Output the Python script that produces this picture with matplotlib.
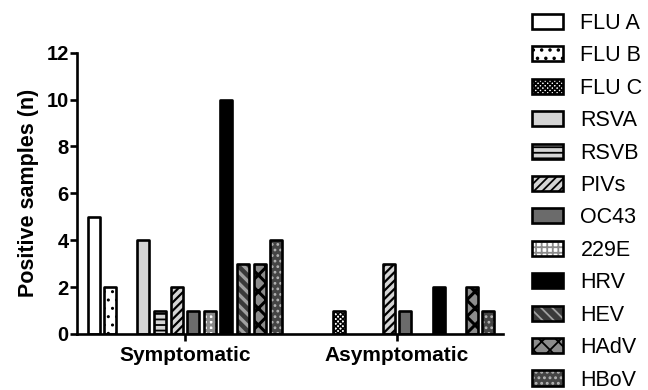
import matplotlib
matplotlib.use('Agg')
import matplotlib.pyplot as plt
from matplotlib.patches import Patch

plt.rcParams['font.family'] = ['Liberation Sans', 'DejaVu Sans']
plt.rcParams['hatch.linewidth'] = 1.3

viruses = ['FLU A', 'FLU B', 'FLU C', 'RSVA', 'RSVB', 'PIVs', 'OC43', '229E',
           'HRV', 'HEV', 'HAdV', 'HBoV']
groups = ['Symptomatic', 'Asymptomatic']
symptomatic = [5, 2, 0, 4, 1, 2, 1, 1, 10, 3, 3, 4]
asymptomatic = [0, 0, 1, 0, 0, 3, 1, 0, 2, 0, 2, 1]
yticks = [0, 2, 4, 6, 8, 10, 12]

face = ['white', 'white', 'white', '#d4d4d4', '#d4d4d4', '#d4d4d4', '#6b6b6b',
        'white', 'black', '#3a3a3a', '#8c8c8c', '#454545']
hatches = [None, '..', 'xxxxxxx', None, '---', '////', None, '+++', None,
           '\\\\\\', 'xx', '...']
hcolors = ['black', 'black', 'black', 'black', 'black', 'black', 'black',
           '#8a8a8a', 'black', '#a0a0a0', 'black', '#b5b5b5']
hlw = [1, 1, 1.0, 1, 1.3, 1.6, 1, 2.2, 1, 2.4, 2.2, 1.2]


def set_hlw(p, w):
    if hasattr(p, 'set_hatch_linewidth'):
        p.set_hatch_linewidth(w)


fig = plt.figure(figsize=(6.48, 3.9), dpi=100)
ax = fig.add_axes([0.1188, 0.1436, 0.6574, 0.7213])

centers = [0.0, 12.77]
width = 0.72
lw = 1.9
handles = []
for i, v in enumerate(viruses):
    vals = [symptomatic[i], asymptomatic[i]]
    xs = [c + (i - 5.5) for c in centers]
    px = [x for x, h in zip(xs, vals) if h > 0]
    ph = [h for h in vals if h > 0]
    bars = ax.bar(px, ph, width, color=face[i], hatch=hatches[i], edgecolor=hcolors[i],
                  linewidth=0, zorder=2)
    for b in bars:
        set_hlw(b, hlw[i])
    ax.bar(px, ph, width, fill=False, edgecolor='black', linewidth=lw,
           zorder=3, joinstyle='round')
    h1 = Patch(facecolor=face[i], hatch=hatches[i], edgecolor=hcolors[i], linewidth=0)
    set_hlw(h1, hlw[i])
    h2 = Patch(fill=False, edgecolor='black', linewidth=lw, joinstyle='round')
    handles.append((h1, h2))

ax.set_xlim(-6.5, 19.15)
ax.set_ylim(0, 12)
ax.set_yticks(yticks)
ax.set_yticklabels([str(t) for t in yticks], fontsize=14.5, fontweight='bold')
ax.set_xticks(centers)
ax.set_xticklabels(groups, fontsize=15, fontweight='bold')
ax.tick_params(axis='both', length=5, width=lw, direction='out')
ax.tick_params(axis='y', pad=1)
for s in ['top', 'right']:
    ax.spines[s].set_visible(False)
for s in ['left', 'bottom']:
    ax.spines[s].set_linewidth(lw)
ax.set_ylabel('Positive samples (n)', fontsize=15.5, fontweight='bold', labelpad=5)

fig.legend(handles, viruses, loc='upper left', bbox_to_anchor=(532 / 648, 1 - 13 / 390),
           frameon=False, fontsize=15.5, borderpad=0, borderaxespad=0,
           handlelength=1.45, handleheight=0.7, handletextpad=0.8, labelspacing=0.53)

fig.savefig('out.png', dpi=100)
